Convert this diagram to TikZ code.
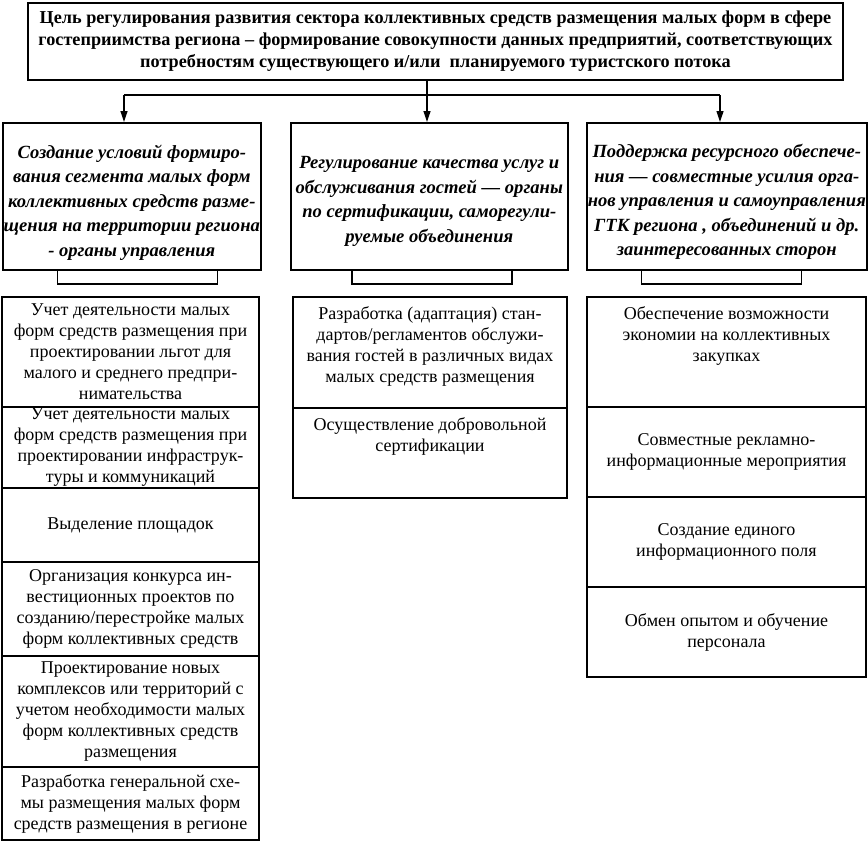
\documentclass[tikz,border=0pt]{standalone}
\usepackage{fontspec}
\setmainfont{Liberation Serif}
\usetikzlibrary{positioning, arrows.meta}

\begin{document}
\begin{tikzpicture}[
    x=1pt, y=-1pt,
    aim/.style={draw, line width=1.6pt, rectangle, inner sep=2pt, align=center, font=\fontsize{18.2}{22}\selectfont\bfseries},
    task/.style={draw, line width=1.6pt, rectangle, anchor=north west, minimum height=147pt, inner sep=0pt},
    tasktxt/.style={inner sep=0pt, align=center, font=\fontsize{18.6}{24.5}\selectfont\bfseries\itshape},
    tab/.style={draw, line width=1.6pt, rectangle, anchor=north, minimum width=160pt, minimum height=14pt, inner sep=0pt},
    cell/.style={draw, line width=1.6pt, rectangle, anchor=north west, outer sep=0pt, inner sep=0pt},
    txt/.style={inner sep=0pt, align=center, font=\fontsize{18}{21}\selectfont},
    link/.style={line width=1.2pt},
    arr/.style={link, -{Triangle[length=11pt, width=7pt]}},
]
\useasboundingbox (0,0) rectangle (868,844);

% goal
\node[aim, minimum width=815pt, minimum height=77pt] (goal) at (435.5,41.5)
    {Цель регулирования развития сектора коллективных средств размещения малых форм в сфере\\
     гостеприимства региона – формирование совокупности данных предприятий, соответствующих\\
     потребностям существующего и/или\ \ планируемого туристского потока};

% tasks
\node[task, minimum width=258pt] (taskL) at (2,122) {};
\node[task, minimum width=277pt] (taskM) at (290,122) {};
\node[task, minimum width=280pt] (taskR) at (586,122) {};
\node[tasktxt] (taskLt) at ([yshift=-6pt]taskL.center)
    {Создание условий формиро-\\вания сегмента малых форм\\коллективных средств разме-\\щения на территории региона\\- органы управления};
\node[tasktxt] (taskMt) at ([yshift=-5pt]taskM.center)
    {Регулирование качества услуг и\\обслуживания гостей — органы\\по сертификации, саморегули-\\руемые объединения};
\node[tasktxt] (taskRt) at ([yshift=-6pt]taskR.center)
    {Поддержка ресурсного обеспече-\\ния — совместные усилия орга-\\нов управления и самоуправления\\ГТК региона , объединений и др.\\заинтересованных сторон};

\node[tab] (tabL) at (137.5,269) {};
\node[tab] (tabM) at (432,269) {};
\node[tab] (tabR) at (721.5,269) {};

% connectors
\coordinate (hub) at (427,95);
\coordinate (busL) at (124,95);
\coordinate (busR) at (720,95);
\draw[link] (goal.south -| hub) -- (hub);
\draw[link] (busL) -- (busR);
\draw[arr] (busL) -- (busL |- taskL.north);
\draw[arr] (hub) -- (hub |- taskM.north);
\draw[arr] (busR) -- (busR |- taskR.north);

% left column
\node[cell, minimum width=257pt, minimum height=110pt] (l1) at (2,297) {};
\node[cell, minimum width=257pt, minimum height=81pt] (l2) at (l1.south west) {};
\node[cell, minimum width=257pt, minimum height=74pt] (l3) at (l2.south west) {};
\node[cell, minimum width=257pt, minimum height=94pt] (l4) at (l3.south west) {};
\node[cell, minimum width=257pt, minimum height=111pt] (l5) at (l4.south west) {};
\node[cell, minimum width=257pt, minimum height=73pt] (l6) at (l5.south west) {};
\node[txt] (l1t) at (l1) {Учет деятельности малых\\форм средств размещения при\\проектировании льгот для\\малого и среднего предпри-\\нимательства};
\node[txt] (l2t) at (l2) {Учет деятельности малых\\форм средств размещения при\\проектировании инфраструк-\\туры и коммуникаций};
\node[txt] (l3t) at (l3) {Выделение площадок};
\node[txt] (l4t) at (l4) {Организация конкурса ин-\\вестиционных проектов по\\созданию/перестройке малых\\форм коллективных средств};
\node[txt] (l5t) at (l5) {Проектирование новых\\комплексов или территорий с\\учетом необходимости малых\\форм коллективных средств\\размещения};
\node[txt] (l6t) at (l6) {Разработка генеральной схе-\\мы размещения малых форм\\средств размещения в регионе};

% middle column
\node[cell, minimum width=274pt, minimum height=111pt] (m1) at (293,297) {};
\node[cell, minimum width=274pt, minimum height=90pt] (m2) at (m1.south west) {};
\node[txt, below=9pt of m1.north] (m1t) {Разработка (адаптация) стан-\\дартов/регламентов обслужи-\\вания гостей в различных видах\\малых средств размещения};
\node[txt, below=9pt of m2.north] (m2t) {Осуществление добровольной\\сертификации};

% right column
\node[cell, minimum width=279pt, minimum height=110pt] (r1) at (587,297) {};
\node[cell, minimum width=279pt, minimum height=90pt] (r2) at (r1.south west) {};
\node[cell, minimum width=279pt, minimum height=90pt] (r3) at (r2.south west) {};
\node[cell, minimum width=279pt, minimum height=90pt] (r4) at (r3.south west) {};
\node[txt, below=9pt of r1.north] (r1t) {Обеспечение возможности\\экономии на коллективных\\закупках};
\node[txt] (r2t) at (r2) {Совместные рекламно-\\информационные мероприятия};
\node[txt] (r3t) at (r3) {Создание единого\\информационного поля};
\node[txt] (r4t) at (r4) {Обмен опытом и обучение\\персонала};
\end{tikzpicture}
\end{document}
